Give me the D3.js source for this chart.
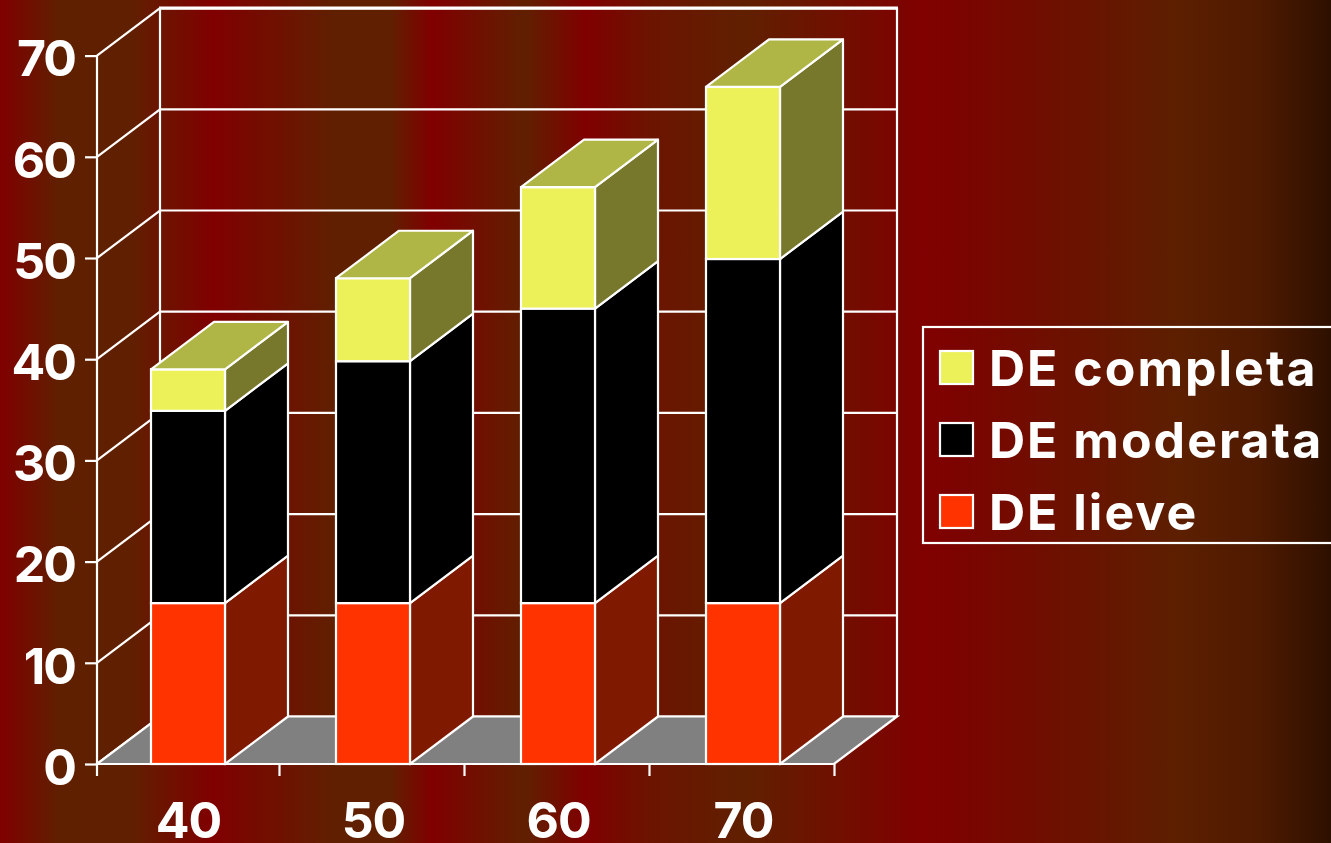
<!DOCTYPE html>
<html><head><meta charset="utf-8">
<script src="https://cdn.jsdelivr.net/npm/d3@7"></script>
<style>html,body{margin:0;padding:0;background:#000;overflow:hidden}svg{display:block}
text{font-family:"Inter",sans-serif;font-weight:700;fill:#fff}</style>
</head><body><script>
const categories = ["40","50","60","70"];
const seriesNames = ["DE lieve","DE moderata","DE completa"];
const lieve = [15.9,15.9,15.9,15.9];
const moderata = [19,23.9,29.1,34];
const completa = [4.1,8.2,12,17];
const yTicks = [0,10,20,30,40,50,60,70];
const frontColors = ["#ff3300","#000000","#ecf159"];
const sideColors = ["#7f1a00","#000000","#78782d"];
const topColors = ["#bf2600","#000000","#b0b645"];
const legendOrder = [2,1,0];
const bgStops = [[0,"#800000"],[60,"#5f2000"],[130,"#602000"],[213,"#800000"],[335,"#602000"],[390,"#602000"],[432,"#800000"],[525,"#602000"],[586,"#800000"],[650,"#6c1400"],[745,"#602000"],[925,"#800000"],[1180,"#5c1f00"],[1260,"#4e1a00"],[1331,"#2e1000"]];

const W=1331,H=843;
const svg=d3.select("body").append("svg").attr("width",W).attr("height",H);
const grad=svg.append("defs").append("linearGradient").attr("id","bg").attr("x1",0).attr("x2",1).attr("y1",0).attr("y2",0);
grad.selectAll("stop").data(bgStops).join("stop").attr("offset",d=>d[0]/W).attr("stop-color",d=>d[1]);
svg.append("rect").attr("width",W).attr("height",H).attr("fill","url(#bg)");

const DX=63,DY=-47.5,SW=2.2;
const axisX=97, rightX=834;
const y=d3.scaleLinear().domain([0,70]).range([764,55.6]);
const x=d3.scaleBand().domain(categories).range([95.5,835.5]).paddingInner(0.6).paddingOuter(0.3);
const white=s=>s.attr("stroke","#fff").attr("stroke-width",SW);

// back wall and grid
const g=svg.append("g");
yTicks.forEach(t=>{
  const yy=y(t);
  white(g.append("path")).attr("fill","none").attr("stroke-linejoin","miter")
    .attr("d",d3.line()([[axisX,yy],[axisX+DX,yy+DY],[rightX+DX,yy+DY]]));
});
white(g.append("line")).attr("x1",axisX+DX).attr("x2",axisX+DX).attr("y1",y(70)+DY).attr("y2",y(0)+DY);
white(g.append("line")).attr("x1",rightX+DX).attr("x2",rightX+DX).attr("y1",y(70)+DY).attr("y2",y(0)+DY);
g.append("line").attr("x1",axisX+DX-1).attr("x2",rightX+DX+1).attr("y1",y(70)+DY).attr("y2",y(70)+DY).attr("stroke","#fff").attr("stroke-width",3.2);
// floor
white(g.append("path")).attr("fill","#808080")
  .attr("d",d3.line()([[axisX,y(0)],[axisX+DX,y(0)+DY],[rightX+DX,y(0)+DY],[rightX,y(0)]])+"Z");

// bars
const stack=d3.stack().keys([0,1,2]).value((d,k)=>[lieve,moderata,completa][k][d])(d3.range(categories.length));
const bw=x.bandwidth();
stack.forEach((layer,k)=>{
  const gl=svg.append("g");
  layer.forEach((d,i)=>{
    const x0=x(categories[i]),x1=x0+bw,y0=y(d[0]),y1=y(d[1]);
    white(gl.append("path")).attr("fill",sideColors[k]).attr("stroke-linejoin","round")
      .attr("d",d3.line()([[x1,y1],[x1+DX,y1+DY],[x1+DX,y0+DY],[x1,y0]])+"Z");
    white(gl.append("rect")).attr("x",x0).attr("y",y1).attr("width",bw).attr("height",y0-y1).attr("fill",frontColors[k]);
    if(k===2){
      white(gl.append("path")).attr("fill",topColors[k]).attr("stroke-linejoin","round")
        .attr("d",d3.line()([[x0,y1],[x0+DX,y1+DY],[x1+DX,y1+DY],[x1,y1]])+"Z");
    }
  });
});

// axes
const fs=50;
const font='"Inter",sans-serif';
const ya=svg.append("g").attr("transform",`translate(${axisX},0)`)
  .call(d3.axisLeft(y).tickValues(yTicks).tickSize(12).tickPadding(8).tickSizeOuter(0));
ya.selectAll("path,line").attr("stroke","#fff").attr("stroke-width",SW);
ya.selectAll("text").attr("font-size",fs).style("font-family",font).style("letter-spacing","-2px").attr("fill","#fff").attr("dy",20.3).attr("dx",-2);
ya.select(".domain").attr("d",`M0,${y(70)}V${y(0)}`);

const xa=svg.append("g").attr("transform",`translate(0,${y(0)})`)
  .call(d3.axisBottom(d3.scalePoint().domain(categories).range([x(categories[0])+bw/2,x(categories[3])+bw/2])).tickSize(0));
xa.select(".domain").remove();
xa.selectAll("text").attr("font-size",fs).style("font-family",font).style("letter-spacing","-1px").attr("fill","#fff").attr("y",74).attr("dy",0).attr("dx",0);
const step=x.step();
const boundaries=[axisX].concat(categories.map(c=>x(c)+bw+(step-bw)/2-1));
svg.append("line").attr("x1",axisX-1).attr("x2",rightX+1).attr("y1",y(0)).attr("y2",y(0)).attr("stroke","#fff").attr("stroke-width",SW);
svg.selectAll(".xt").data(boundaries).join("line").attr("class","xt")
  .attr("x1",d=>d).attr("x2",d=>d).attr("y1",y(0)).attr("y2",y(0)+12).attr("stroke","#fff").attr("stroke-width",SW);

// legend
const lg=svg.append("g");
lg.append("rect").attr("x",923).attr("y",327).attr("width",420).attr("height",216).attr("fill","none").attr("stroke","#fff").attr("stroke-width",SW);
const ly=d3.scalePoint().domain(legendOrder).range([368,512]);
legendOrder.forEach(k=>{
  lg.append("rect").attr("x",940).attr("y",ly(k)-17).attr("width",33).attr("height",33).attr("fill",frontColors[k]).attr("stroke","#fff").attr("stroke-width",SW);
  lg.append("text").attr("x",989).attr("y",ly(k)+18).attr("font-size",fs).style("letter-spacing","2px").text(seriesNames[k]);
});
</script></body></html>
